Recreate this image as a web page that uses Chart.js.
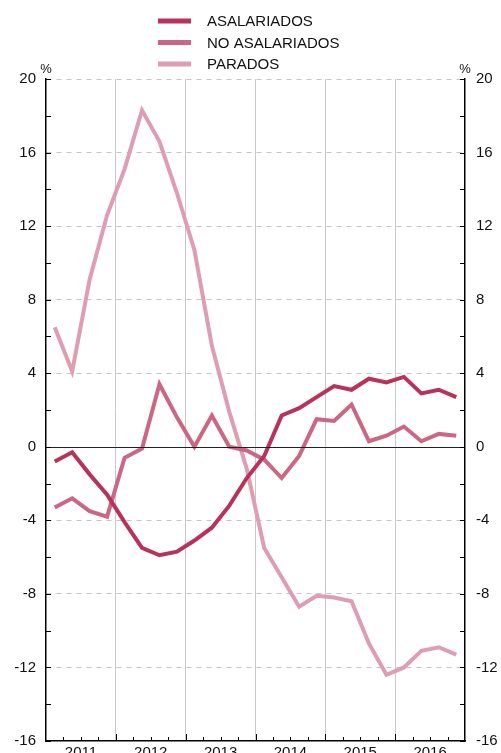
<!DOCTYPE html>
<html>
<head>
<meta charset="utf-8">
<script src="https://cdn.jsdelivr.net/npm/chart.js@4.4.1/dist/chart.umd.min.js"></script>
<style>
  html, body { margin: 0; padding: 0; background: #fff; }
  canvas { display: block; }
</style>
</head>
<body>
<canvas id="myChart" width="501" height="753"></canvas>
<script>
// quarterly values, 2011 Q1 .. 2016 Q4
const years = ['2011', '2012', '2013', '2014', '2015', '2016'];
const asalariados = [-0.8, -0.3, -1.5, -2.6, -4.1, -5.5, -5.9, -5.7, -5.1, -4.4, -3.2, -1.7,
  -0.5, 1.7, 2.1, 2.7, 3.3, 3.1, 3.7, 3.5, 3.8, 2.9, 3.1, 2.7];
const noAsalariados = [-3.3, -2.8, -3.5, -3.8, -0.6, -0.1, 3.4, 1.6, 0.0, 1.7, 0.0, -0.2,
  -0.7, -1.7, -0.5, 1.5, 1.4, 2.3, 0.3, 0.6, 1.1, 0.3, 0.7, 0.6];
const parados = [6.5, 4.1, 9.1, 12.6, 15.1, 18.3, 16.6, 13.8, 10.7, 5.5, 1.9, -1.2,
  -5.5, -7.1, -8.7, -8.1, -8.2, -8.4, -10.7, -12.4, -12.0, -11.1, -10.9, -11.3];

const toPoints = arr => arr.map((v, i) => ({ x: i + 0.5, y: v }));
const FONT = '"Liberation Sans", Arial, Helvetica, sans-serif';

// inner ticks, zero line, % marks and the stacked legend
const extras = {
  id: 'extras',
  afterDatasetsDraw(chart) {
    const ctx = chart.ctx;
    const { left, right, bottom } = chart.chartArea;
    const x = chart.scales.x, y = chart.scales.y;
    ctx.save();
    // zero line
    ctx.strokeStyle = '#222';
    ctx.lineWidth = 1;
    ctx.beginPath();
    ctx.moveTo(left, Math.round(y.getPixelForValue(0)) + 0.5);
    ctx.lineTo(right, Math.round(y.getPixelForValue(0)) + 0.5);
    ctx.stroke();
    // y ticks inside both axes
    ctx.strokeStyle = '#000';
    for (let v = -16; v <= 20; v += 2) {
      const py = Math.round(y.getPixelForValue(v)) + 0.5;
      ctx.beginPath();
      ctx.moveTo(left, py); ctx.lineTo(left + 5, py);
      ctx.moveTo(right, py); ctx.lineTo(right - 5, py);
      ctx.stroke();
    }
    // x ticks on the bottom
    for (let q = 1; q < 24; q++) {
      const px = Math.round(x.getPixelForValue(q)) + 0.5;
      ctx.beginPath();
      ctx.moveTo(px, bottom);
      ctx.lineTo(px, bottom - (q % 4 === 0 ? 7 : 4));
      ctx.stroke();
    }
    ctx.fillStyle = '#111';
    ctx.font = '13px ' + FONT;
    ctx.textAlign = 'center';
    ctx.textBaseline = 'middle';
    ctx.fillText('%', left, 69);
    ctx.fillText('%', right, 69);
    // legend
    ctx.font = '15px ' + FONT;
    ctx.textAlign = 'left';
    chart.data.datasets.forEach((ds, i) => {
      const ly = 21 + i * 21.5;
      ctx.strokeStyle = ds.borderColor;
      ctx.lineWidth = 5;
      ctx.beginPath();
      ctx.moveTo(158, ly); ctx.lineTo(191, ly);
      ctx.stroke();
      ctx.fillStyle = '#111';
      ctx.fillText(ds.label, 207, ly + 1);
    });
    ctx.restore();
  }
};

const yTicks = {
  stepSize: 2,
  autoSkip: false,
  color: '#111',
  font: { family: FONT, size: 15 },
  callback: v => (v % 4 === 0 ? String(v) : '')
};

const ctx = document.getElementById('myChart').getContext('2d');
const myChart = new Chart(ctx, {
  type: 'line',
  data: {
    datasets: [
      { label: 'ASALARIADOS', data: toPoints(asalariados), borderColor: '#b9325a', order: 1 },
      { label: 'NO ASALARIADOS', data: toPoints(noAsalariados), borderColor: '#cb6684', order: 2 },
      { label: 'PARADOS', data: toPoints(parados), borderColor: '#de9db1', order: 3 }
    ]
  },
  options: {
    responsive: false,
    animation: false,
    layout: { padding: { top: 79, left: 0, right: 0, bottom: 0 } },
    elements: {
      line: { borderWidth: 4, tension: 0, borderJoinStyle: 'miter', borderCapStyle: 'butt' },
      point: { radius: 0 }
    },
    plugins: {
      legend: { display: false },
      tooltip: { enabled: false }
    },
    scales: {
      x: {
        type: 'linear',
        min: 0,
        max: 24,
        ticks: {
          stepSize: 1,
          autoSkip: false,
          maxRotation: 0,
          padding: 3,
          color: '#111',
          font: { family: FONT, size: 15 },
          callback: v => (v % 4 === 2 ? years[(v - 2) / 4] : '')
        },
        grid: {
          drawTicks: false,
          lineWidth: 1,
          color: c => (c.tick && c.tick.value % 4 === 0 && c.tick.value > 0 && c.tick.value < 24 ? '#c8c8c8' : 'rgba(0,0,0,0)')
        },
        border: { color: '#000', width: 1.5 },
        afterFit: s => { s.height = 12; s.paddingLeft = 0; s.paddingRight = 0; }
      },
      y: {
        min: -16,
        max: 20,
        ticks: Object.assign({ padding: 10 }, yTicks),
        grid: {
          drawTicks: false,
          color: c => (c.tick && c.tick.value % 4 === 0 && c.tick.value !== 0 && c.tick.value !== -16 ? '#c4c4c4' : 'rgba(0,0,0,0)')
        },
        border: { color: '#000', width: 1.5, dash: [5, 5] },
        afterFit: s => { s.width = 46; s.paddingTop = 0; s.paddingBottom = 0; }
      },
      y2: {
        position: 'right',
        min: -16,
        max: 20,
        ticks: Object.assign({ padding: 11 }, yTicks),
        grid: { drawOnChartArea: false, drawTicks: false },
        border: { color: '#000', width: 1.5 },
        afterFit: s => { s.width = 36; s.paddingTop = 0; s.paddingBottom = 0; }
      }
    }
  },
  plugins: [extras]
});
</script>
</body>
</html>
